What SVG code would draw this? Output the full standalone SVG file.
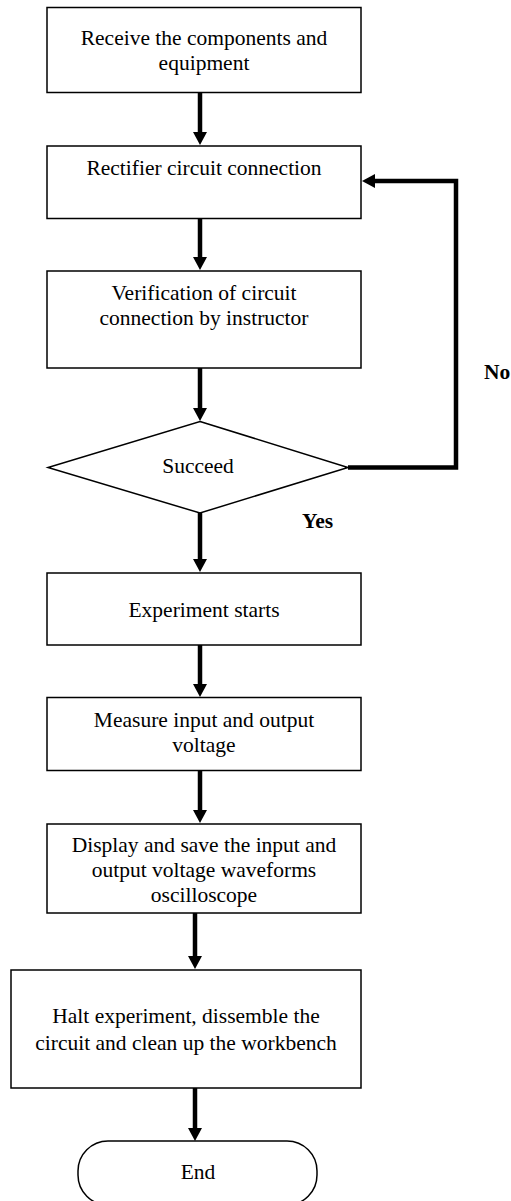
<svg xmlns="http://www.w3.org/2000/svg" width="511" height="1201" viewBox="0 0 511 1201">
<style>
.box{fill:#fff;stroke:#000;stroke-width:1.5}
.t{font-family:'Liberation Serif','Times New Roman',serif;font-size:21.5px;fill:#000;text-anchor:middle}
.lb{font-family:'Liberation Serif','Times New Roman',serif;font-size:21.5px;font-weight:bold;fill:#000}
.c{fill:none;stroke:#000;stroke-width:4.5}
</style>
<defs>
<marker id="ah" markerUnits="userSpaceOnUse" viewBox="0 0 13 14" refX="0" refY="7" markerWidth="13" markerHeight="14" orient="auto">
<path d="M0,0 L13,7 L0,14 z" fill="#000"/>
</marker>
</defs>
<rect width="511" height="1201" fill="#fff"/>
<g id="connectors">
<line class="c" x1="200" y1="93" x2="200" y2="132" marker-end="url(#ah)"/>
<line class="c" x1="200" y1="218" x2="200" y2="257" marker-end="url(#ah)"/>
<line class="c" x1="200" y1="368" x2="200" y2="408" marker-end="url(#ah)"/>
<line class="c" x1="200" y1="513" x2="200" y2="559" marker-end="url(#ah)"/>
<line class="c" x1="200" y1="645" x2="200" y2="684" marker-end="url(#ah)"/>
<line class="c" x1="200" y1="771" x2="200" y2="810" marker-end="url(#ah)"/>
<line class="c" x1="195" y1="913" x2="195" y2="956" marker-end="url(#ah)"/>
<line class="c" x1="195" y1="1088" x2="195" y2="1128" marker-end="url(#ah)"/>
<path class="c" d="M348,467.5 H456 V181 H375" marker-end="url(#ah)"/>
<text class="lb" x="484" y="379">No</text>
<text class="lb" x="302" y="528">Yes</text>
</g>
<g id="n1">
<rect class="box" x="47" y="7.5" width="314" height="85"/>
<text class="t" x="204" y="45">Receive the components and</text>
<text class="t" x="204" y="70">equipment</text>
</g>
<g id="n2">
<rect class="box" x="47" y="146" width="314" height="72.5"/>
<text class="t" x="204" y="175">Rectifier circuit connection</text>
</g>
<g id="n3">
<rect class="box" x="47" y="271" width="314" height="97"/>
<text class="t" x="204" y="300">Verification of circuit</text>
<text class="t" x="204" y="325">connection by instructor</text>
</g>
<g id="n4">
<polygon class="box" points="200,421.5 348,467.5 200,513 48,467.5"/>
<text class="t" x="198" y="473">Succeed</text>
</g>
<g id="n5">
<rect class="box" x="47" y="573" width="314" height="72"/>
<text class="t" x="204" y="617">Experiment starts</text>
</g>
<g id="n6">
<rect class="box" x="47" y="697.5" width="314" height="73"/>
<text class="t" x="204" y="727">Measure input and output</text>
<text class="t" x="204" y="752">voltage</text>
</g>
<g id="n7">
<rect class="box" x="47" y="824" width="314" height="89"/>
<text class="t" x="204" y="852">Display and save the input and</text>
<text class="t" x="204" y="877">output voltage waveforms</text>
<text class="t" x="204" y="902">oscilloscope</text>
</g>
<g id="n8">
<rect class="box" x="11" y="970" width="350" height="118"/>
<text class="t" x="186" y="1023">Halt experiment, dissemble the</text>
<text class="t" x="186" y="1050">circuit and clean up the workbench</text>
</g>
<g id="n9">
<rect class="box" x="78" y="1141" width="239" height="64" rx="30" ry="30"/>
<text class="t" x="198" y="1179">End</text>
</g>
</svg>
